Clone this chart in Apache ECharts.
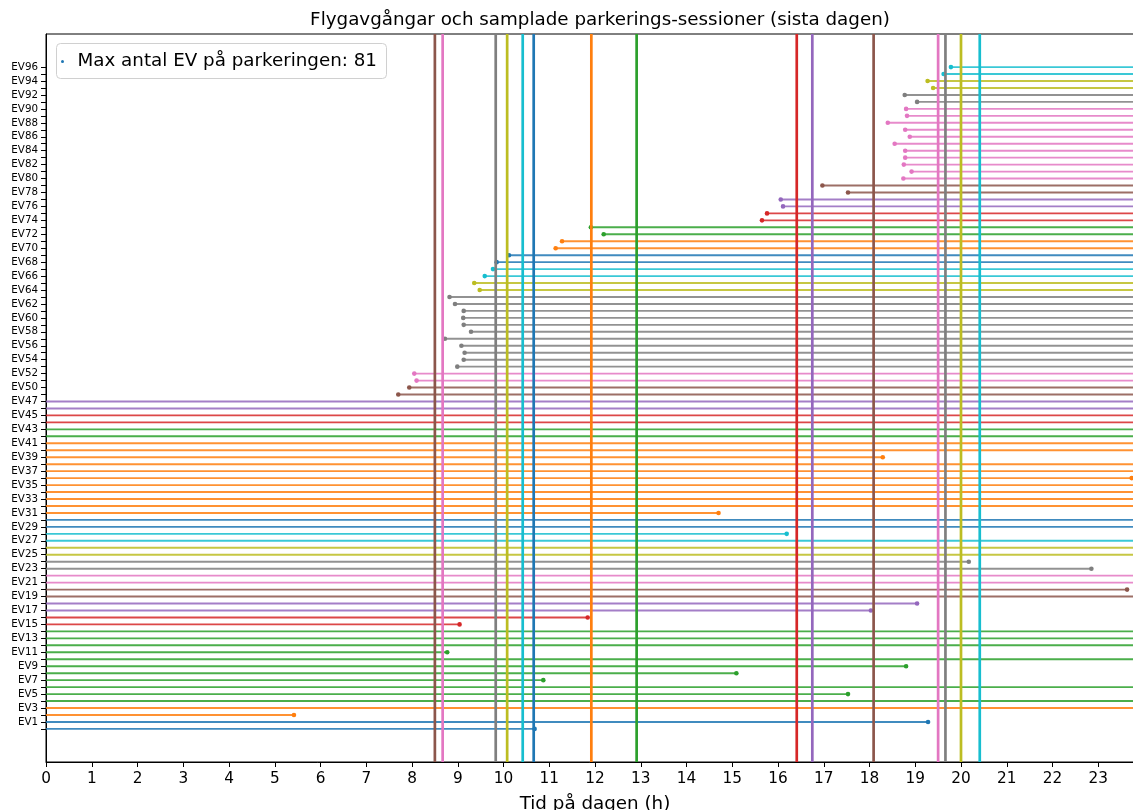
<!DOCTYPE html>
<html>
<head>
<meta charset="utf-8">
<title>Flygavgångar och parkerings-sessioner</title>
<script src="https://cdn.jsdelivr.net/npm/echarts@6/dist/echarts.min.js"></script>
<style>
  html, body { margin: 0; padding: 0; background: #ffffff; }
  #chart { width: 1133px; height: 810px; }
</style>
</head>
<body>
<div id="chart"></div>
<script>
// tab10 palette
const palette = ['#1f77b4', '#ff7f0e', '#2ca02c', '#d62728', '#9467bd',
                 '#8c564b', '#e377c2', '#7f7f7f', '#bcbd22', '#17becf'];

// Session labels, one per row (bottom to top)
const evLabels = [
  'EV0','EV1','EV2','EV3','EV4','EV5','EV6','EV7','EV8','EV9',
  'EV10','EV11','EV12','EV13','EV14','EV15','EV16','EV17','EV18','EV19',
  'EV20','EV21','EV22','EV23','EV24','EV25','EV26','EV27','EV28','EV29',
  'EV30','EV31','EV32','EV33','EV34','EV35','EV36','EV37','EV38','EV39',
  'EV40','EV41','EV42','EV43','EV44','EV45','EV46','EV47','EV49','EV50',
  'EV51','EV52','EV53','EV54','EV55','EV56','EV57','EV58','EV59','EV60',
  'EV61','EV62','EV63','EV64','EV65','EV66','EV67','EV68','EV69','EV70',
  'EV71','EV72','EV73','EV74','EV75','EV76','EV77','EV78','EV79','EV80',
  'EV81','EV82','EV83','EV84','EV85','EV86','EV87','EV88','EV89','EV90',
  'EV91','EV92','EV93','EV94','EV95','EV96'
];

// Arrival time (h); sessions that began the day before start at -1
const sessionStart = [
  -1, -1, -1, -1, -1, -1, -1, -1, -1, -1,
  -1, -1, -1, -1, -1, -1, -1, -1, -1, -1,
  -1, -1, -1, -1, -1, -1, -1, -1, -1, -1,
  -1, -1, -1, -1, -1, -1, -1, -1, -1, -1,
  -1, -1, -1, -1, -1, -1, -1, -1, 7.70, 7.94,
  8.10, 8.05, 8.99, 9.13, 9.15, 9.08, 8.72, 9.29, 9.13, 9.12,
  9.13, 8.94, 8.82, 9.48, 9.36, 9.59, 9.77, 9.85, 10.12, 11.14,
  11.28, 12.19, 11.91, 15.65, 15.76, 16.11, 16.06, 17.53, 16.97, 18.74,
  18.92, 18.75, 18.78, 18.78, 18.55, 18.88, 18.78, 18.40, 18.82, 18.80,
  19.04, 18.77, 19.39, 19.27, 19.62, 19.78
];

// Departure time (h); sessions continuing past midnight end at 25
const sessionEnd = [
  10.68, 19.28, 5.42, 25, 25, 17.53, 25, 10.87, 15.09, 18.80,
  25, 8.77, 25, 25, 25, 9.04, 11.84, 18.03, 19.04, 25,
  23.63, 25, 25, 22.85, 20.17, 25, 25, 25, 16.19, 25,
  25, 14.70, 25, 25, 25, 25, 23.73, 25, 25, 18.29,
  25, 25, 25, 25, 25, 25, 25, 25, 25, 25,
  25, 25, 25, 25, 25, 25, 25, 25, 25, 25,
  25, 25, 25, 25, 25, 25, 25, 25, 25, 25,
  25, 25, 25, 25, 25, 25, 25, 25, 25, 25,
  25, 25, 25, 25, 25, 25, 25, 25, 25, 25,
  25, 25, 25, 25, 25, 25
];

// Palette index per session row
const sessionColor = [
  0, 0, 1, 1, 2, 2, 2, 2, 2, 2,
  2, 2, 2, 2, 2, 3, 3, 4, 4, 5,
  5, 6, 6, 7, 7, 8, 8, 9, 9, 0,
  0, 1, 1, 1, 1, 1, 1, 1, 1, 1,
  1, 1, 2, 2, 3, 3, 4, 4, 5, 5,
  6, 6, 7, 7, 7, 7, 7, 7, 7, 7,
  7, 7, 7, 8, 8, 9, 9, 0, 0, 1,
  1, 2, 2, 3, 3, 4, 4, 5, 5, 6,
  6, 6, 6, 6, 6, 6, 6, 6, 6, 6,
  7, 7, 8, 8, 9, 9
];

// Flight departures (h) and their palette index
const flightTimes = [8.50, 8.67, 9.83, 10.08, 10.42, 10.66, 11.92, 12.91,
                     16.41, 16.75, 18.09, 19.50, 19.66, 20.00, 20.41];
const flightColor = [5, 6, 7, 8, 9, 0, 1, 2, 3, 4, 5, 6, 7, 8, 9];

const maxParked = 81;
const legendName = 'Max antal EV på parkeringen: ' + maxParked;

const rowTicks = evLabels.map((_, i) => i);
const rowLabelTicks = rowTicks.filter(i => i % 2 === 1);

const sessionData = evLabels.map((_, i) => [sessionStart[i], sessionEnd[i], i, sessionColor[i]]);
const flightData = flightTimes.map((t, i) => [t, flightColor[i]]);

const FONT = 'DejaVu Sans';

function renderSession(params, api) {
  const cs = params.coordSys;
  const row = api.value(2);
  const c = palette[api.value(3)];
  const p0 = api.coord([api.value(0), row]);
  const p1 = api.coord([api.value(1), row]);
  const xmin = cs.x, xmax = cs.x + cs.width;
  const children = [{
    type: 'line',
    shape: { x1: Math.max(p0[0], xmin), y1: p0[1], x2: Math.min(p1[0], xmax), y2: p1[1] },
    style: { stroke: c, lineWidth: 1.9, opacity: 0.85 }
  }];
  [p0, p1].forEach(p => {
    if (p[0] >= xmin && p[0] <= xmax) {
      children.push({ type: 'circle', shape: { cx: p[0], cy: p[1], r: 2.3 }, style: { fill: c } });
    }
  });
  return { type: 'group', children };
}

function renderFlight(params, api) {
  const cs = params.coordSys;
  const x = api.coord([api.value(0), 0])[0];
  return {
    type: 'line',
    shape: { x1: x, y1: cs.y, x2: x, y2: cs.y + cs.height },
    style: { stroke: palette[api.value(1)], lineWidth: 2.7 }
  };
}

const chart = echarts.init(document.getElementById('chart'), null, { renderer: 'canvas' });
chart.setOption({
  animation: false,
  backgroundColor: '#ffffff',
  textStyle: { fontFamily: FONT },
  title: {
    text: 'Flygavgångar och samplade parkerings-sessioner (sista dagen)',
    left: 595,
    top: 6,
    textAlign: 'center',
    textStyle: { fontFamily: FONT, fontSize: 18.3, fontWeight: 'normal', color: '#000' }
  },
  // Legend box with a single entry: small marker + text
  graphic: [
    {
      type: 'group',
      left: 56,
      top: 43,
      z: 10,
      children: [
        {
          type: 'rect',
          shape: { x: 0, y: 0, width: 330, height: 35, r: 4 },
          style: { fill: 'rgba(255,255,255,0.8)', stroke: '#d0d0d0', lineWidth: 1 }
        },
        {
          type: 'circle',
          shape: { cx: 6, cy: 18, r: 1.5 },
          style: { fill: palette[0] }
        },
        {
          type: 'text',
          x: 21,
          y: 18,
          style: {
            text: legendName,
            font: '18.3px "DejaVu Sans"',
            fill: '#000',
            verticalAlign: 'middle',
            align: 'left'
          }
        }
      ]
    }
  ],
  grid: {
    left: 46,
    top: 34,
    width: 1098,
    height: 728,
    outerBoundsMode: 'none',
    show: true,
    borderColor: '#000',
    borderWidth: 1,
    containLabel: false
  },
  xAxis: {
    type: 'value',
    min: 0,
    max: 24,
    interval: 1,
    name: 'Tid på dagen (h)',
    nameLocation: 'middle',
    nameGap: 33,
    nameTextStyle: { fontFamily: FONT, fontSize: 18.3, color: '#000' },
    axisLine: { show: true, onZero: false, lineStyle: { color: '#000', width: 1 } },
    axisTick: { show: true, length: 5, lineStyle: { color: '#000' } },
    axisLabel: { fontFamily: FONT, fontSize: 15.3, color: '#000', margin: 10 },
    splitLine: { show: false }
  },
  yAxis: {
    type: 'value',
    min: -4.75,
    max: 99.75,
    axisLine: { show: true, onZero: false, lineStyle: { color: '#000', width: 1 } },
    axisTick: { show: true, length: 5, customValues: rowTicks, lineStyle: { color: '#000' } },
    axisLabel: {
      customValues: rowLabelTicks,
      fontFamily: FONT,
      fontSize: 10.3,
      color: '#000',
      margin: 8,
      formatter: v => evLabels[Math.round(v)] || ''
    },
    splitLine: { show: false }
  },
  series: [
    {
      name: 'sessions',
      type: 'custom',
      renderItem: renderSession,
      data: sessionData,
      encode: { x: [0, 1], y: 2 },
      z: 2,
      silent: true
    },
    {
      name: 'flights',
      type: 'custom',
      renderItem: renderFlight,
      data: flightData,
      encode: { x: 0 },
      z: 3,
      silent: true
    }
  ]
});
</script>
</body>
</html>
